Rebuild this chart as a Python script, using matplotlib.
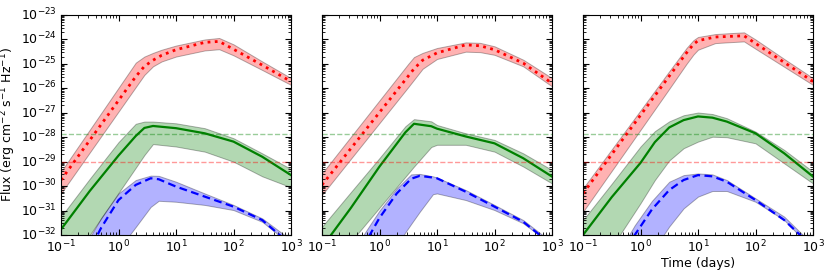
import numpy as np
import matplotlib
matplotlib.use('Agg')
import matplotlib.pyplot as plt
from matplotlib.ticker import LogLocator, NullFormatter

# all values are log10(time/days) and log10(flux)

# panel 1
lt_r1 = [-1, 0.3, 0.45, 0.6, 0.75, 1.0, 1.5, 1.75, 2.0, 2.5, 3.0]
r1_mid = [-29.75, -25.52, -25.1, -24.85, -24.65, -24.42, -24.12, -24.08, -24.4, -25.05, -25.72]
r1_hi = [-29.41, -24.95, -24.7, -24.55, -24.42, -24.25, -24.0, -23.94, -24.2, -24.9, -25.58]
r1_lo = [-30.3, -25.95, -25.45, -25.1, -24.9, -24.7, -24.45, -24.4, -24.65, -25.25, -25.86]

lt_g1 = [-1, -0.5, 0, 0.3, 0.45, 0.6, 1.0, 1.5, 2.0, 2.5, 3.0]
g1_mid = [-31.77, -30.2, -28.75, -27.95, -27.62, -27.54, -27.63, -27.84, -28.18, -28.8, -29.55]
g1_hi = [-31.25, -29.7, -28.2, -27.45, -27.36, -27.36, -27.43, -27.63, -28.04, -28.66, -29.3]
g1_lo = [-33.8, -32.0, -30.28, -29.25, -28.73, -28.28, -28.38, -28.59, -29.0, -29.6, -30.05]

lt_b1 = [-1, -0.5, -0.3, 0, 0.3, 0.56, 0.7, 1.0, 1.5, 2.0, 2.5, 3.0]
b1_mid = [-35.0, -32.6, -31.7, -30.57, -29.95, -29.68, -29.72, -30.02, -30.43, -30.84, -31.39, -32.4]
b1_hi = [-34.5, -32.1, -31.3, -30.3, -29.75, -29.57, -29.58, -29.82, -30.3, -30.77, -31.32, -32.2]
b1_lo = [-35.7, -34.2, -33.6, -32.6, -31.67, -30.85, -30.6, -30.64, -30.77, -30.98, -31.46, -32.4]

# panel 2
lt_r2 = [-1, 0.5, 0.6, 0.75, 1.0, 1.5, 1.75, 2.0, 2.5, 3.0]
r2_mid = [-29.95, -25.5, -25.2, -24.85, -24.55, -24.22, -24.26, -24.42, -24.97, -25.79]
r2_hi = [-29.48, -25.0, -24.72, -24.55, -24.35, -24.12, -24.14, -24.28, -24.83, -25.58]
r2_lo = [-30.36, -25.95, -25.65, -25.2, -24.8, -24.5, -24.52, -24.63, -25.1, -25.92]

lt_g2 = [-1, -0.5, 0, 0.45, 0.6, 0.9, 1.0, 1.5, 2.0, 2.5, 3.0]
g2_mid = [-32.5, -30.9, -29.2, -27.8, -27.45, -27.55, -27.65, -27.97, -28.25, -28.86, -29.61]
g2_hi = [-31.66, -30.25, -28.85, -27.55, -27.26, -27.35, -27.5, -27.84, -28.11, -28.66, -29.34]
g2_lo = [-33.7, -32.28, -30.88, -29.62, -29.2, -28.4, -28.31, -28.31, -28.59, -29.2, -29.89]

lt_b2 = [-1, -0.5, -0.17, 0, 0.3, 0.55, 0.7, 0.93, 1.0, 1.5, 2.0, 2.5, 3.0]
b2_mid = [-35.0, -33.3, -32.0, -31.3, -30.3, -29.7, -29.58, -29.65, -29.68, -30.23, -30.84, -31.46, -32.4]
b2_hi = [-34.6, -32.8, -31.6, -31.0, -30.1, -29.52, -29.5, -29.6, -29.65, -30.16, -30.77, -31.39, -32.3]
b2_lo = [-36.6, -35.0, -34.5, -33.35, -32.4, -31.55, -31.05, -30.33, -30.3, -30.57, -30.98, -31.52, -32.4]

# panel 3
lt_r3 = [-1, 0, 0.5, 0.8, 0.92, 1.0, 1.3, 1.5, 1.8, 2.0, 2.5, 3.0]
r3_mid = [-30.3, -27.1, -25.5, -24.55, -24.2, -24.05, -23.9, -23.88, -23.85, -24.16, -24.94, -25.72]
r3_hi = [-30.09, -26.9, -25.3, -24.35, -24.03, -23.9, -23.78, -23.75, -23.71, -24.0, -24.8, -25.58]
r3_lo = [-31.05, -27.7, -26.02, -25.0, -24.62, -24.42, -24.15, -24.12, -24.08, -24.38, -25.12, -25.86]

lt_g3 = [-1, -0.5, 0, 0.25, 0.5, 0.75, 1.0, 1.25, 1.5, 2.0, 2.5, 3.0]
g3_mid = [-32.0, -30.45, -29.05, -28.2, -27.6, -27.3, -27.15, -27.2, -27.36, -27.84, -28.66, -29.61]
g3_hi = [-31.39, -29.9, -28.38, -27.75, -27.35, -27.1, -26.99, -27.05, -27.22, -27.77, -28.52, -29.41]
g3_lo = [-34.0, -32.5, -30.7, -29.75, -28.95, -28.45, -28.18, -27.98, -28.0, -28.25, -29.07, -29.89]

lt_b3 = [-1, -0.5, -0.1, 0.2, 0.5, 0.75, 1.0, 1.25, 1.5, 2.0, 2.5, 3.0]
b3_mid = [-35.5, -33.5, -32.0, -30.95, -30.16, -29.75, -29.55, -29.6, -29.82, -30.57, -31.39, -32.5]
b3_hi = [-35.0, -33.2, -31.6, -30.6, -29.82, -29.55, -29.48, -29.52, -29.75, -30.5, -31.25, -32.4]
b3_lo = [-37.0, -35.3, -33.7, -32.7, -31.65, -30.91, -30.43, -30.2, -30.2, -30.64, -31.39, -32.6]

# detection limits
lim_green = 1.4e-28
lim_red = 9.5e-30

panels = [
  [(lt_r1, r1_mid, r1_hi, r1_lo), (lt_g1, g1_mid, g1_hi, g1_lo), (lt_b1, b1_mid, b1_hi, b1_lo)],
  [(lt_r2, r2_mid, r2_hi, r2_lo), (lt_g2, g2_mid, g2_hi, g2_lo), (lt_b2, b2_mid, b2_hi, b2_lo)],
  [(lt_r3, r3_mid, r3_hi, r3_lo), (lt_g3, g3_mid, g3_hi, g3_lo), (lt_b3, b3_mid, b3_hi, b3_lo)],
]

band_cols = ['red', 'green', 'blue']
line_cols = ['red', 'green', 'blue']
line_styles = [(0, (1, 1.6)), '-', (0, (3.5, 2))]
line_widths = [2.0, 1.6, 1.6]

fig = plt.figure(figsize=(8.3, 2.77), dpi=100)
lefts = [61, 322, 583]

for i, curves in enumerate(panels):
  ax = fig.add_axes([lefts[i] / 830, 42 / 277, 230 / 830, 220 / 277])
  ax.set_xscale('log')
  ax.set_yscale('log')

  for j, (lt, mid, hi, lo) in enumerate(curves):
    t = 10 ** np.array(lt)
    ax.fill_between(t, 10 ** np.array(lo), 10 ** np.array(hi),
                    facecolor=band_cols[j], alpha=0.3, edgecolor='k', lw=0.7)
    ax.plot(t, 10 ** np.array(mid), color=line_cols[j], ls=line_styles[j], lw=line_widths[j])

  ax.axhline(lim_green, color='green', ls='--', lw=1, alpha=0.4)
  ax.axhline(lim_red, color='red', ls='--', lw=1, alpha=0.4)

  ax.set_xlim(0.1, 1e3)
  ax.set_ylim(1e-32, 1e-23)
  ax.yaxis.set_major_locator(LogLocator(base=10, numticks=20))
  ax.yaxis.set_minor_locator(LogLocator(base=10, subs=np.arange(2, 10), numticks=20))
  ax.yaxis.set_minor_formatter(NullFormatter())
  ax.tick_params(which='both', direction='in', top=True, right=True, labelsize=9)
  ax.tick_params(which='major', length=4, pad=3)
  ax.tick_params(which='minor', length=2)
  if i == 0:
    plt.setp(ax.get_yticklabels(), va='center')
    ax.set_ylabel(r'Flux (erg cm$^{-2}$ s$^{-1}$ Hz$^{-1}$)', fontsize=9)
    ax.yaxis.set_label_coords(-0.185, 0.5)
  else:
    ax.set_yticklabels([])
  if i == 2:
    ax.set_xlabel('Time (days)', fontsize=9, labelpad=1)

fig.savefig('out.png', dpi=100)
